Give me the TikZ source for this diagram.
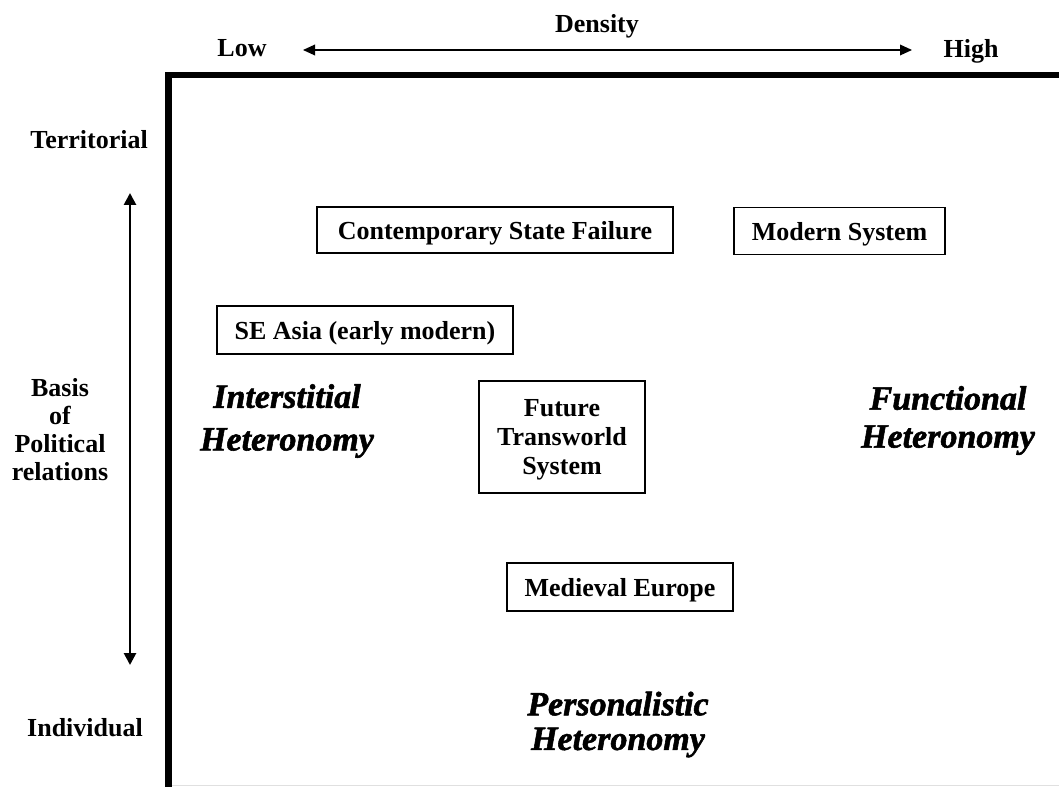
\documentclass[tikz,border=0pt]{standalone}
\usepackage{fontspec}
\setmainfont{Liberation Serif}
\newfontface\hetface[FakeBold=1.6]{Liberation Serif Bold Italic}
\usetikzlibrary{arrows.meta}

\begin{document}
\begin{tikzpicture}[x=0.75pt,y=0.75pt,yscale=-1,xscale=1,
    lbl/.style={anchor=base, inner sep=0.75pt, font=\bfseries\fontsize{19.5}{20.8}\selectfont, align=center},
    casebox/.style={draw, line width=1.1pt, inner sep=0pt, text depth=0pt, font=\bfseries\fontsize{19.5}{22}\selectfont, align=center},
    hetfont/.style={anchor=center, inner sep=0pt, align=center}]
\useasboundingbox (0,0) rectangle (1059,787);

% Frame
\draw [line width=4.8pt] (1059,75) -- (168.5,75) -- (168.5,787) ;
\draw [black!12, line width=0.75pt] (172,785) -- (1059,785) ;

% Density axis
\node [lbl] (density) at (597,33) {Density};
\node [lbl] (low) at (242,57) {Low};
\node [lbl] (high) at (971,58) {High};
\coordinate (lowend) at (303,50);
\coordinate (highend) at (912,50);
\draw [line width=1pt, {Triangle[length=9pt,width=8pt]}-{Triangle[length=9pt,width=8pt]}] (lowend) -- (highend) ;

% Basis axis
\node [lbl] (territorial) at (89,149) {Territorial};
\node [lbl] (basis) at (60,480) {Basis\\of\\Political\\relations};
\node [lbl] (individual) at (85,736) {Individual};
\coordinate (topend) at (130,193);
\coordinate (bottomend) at (130,665);
\draw [line width=2pt, {Triangle[length=9pt,width=9pt]}-{Triangle[length=9pt,width=9pt]}] (topend) -- (bottomend) ;

% Cases
\node [casebox, minimum width=267pt, minimum height=34.5pt] (failure) at (495,230) {Contemporary State Failure};
\node [casebox, minimum width=158pt, minimum height=35pt] (modern) at (839.5,231) {Modern System};
\node [casebox, minimum width=222pt, minimum height=36pt] (seasia) at (365,330) {SE Asia (early modern)};
\node [casebox, minimum width=124.5pt, minimum height=84pt] (future) at (562,437) {Future\\Transworld\\System};
\node [casebox, minimum width=169.5pt, minimum height=36pt] (medieval) at (620,587) {Medieval Europe};

% Heteronomy types
\node [hetfont, font=\hetface\fontsize{25.5}{32}\selectfont] (interstitial) at (287,421) {Interstitial\\Heteronomy};
\node [hetfont, font=\hetface\fontsize{25.5}{28.5}\selectfont] (functional) at (948,420.5) {Functional\\Heteronomy};
\node [hetfont, font=\hetface\fontsize{25.5}{26}\selectfont] (personalistic) at (618,724.5) {Personalistic\\Heteronomy};

\end{tikzpicture}
\end{document}
